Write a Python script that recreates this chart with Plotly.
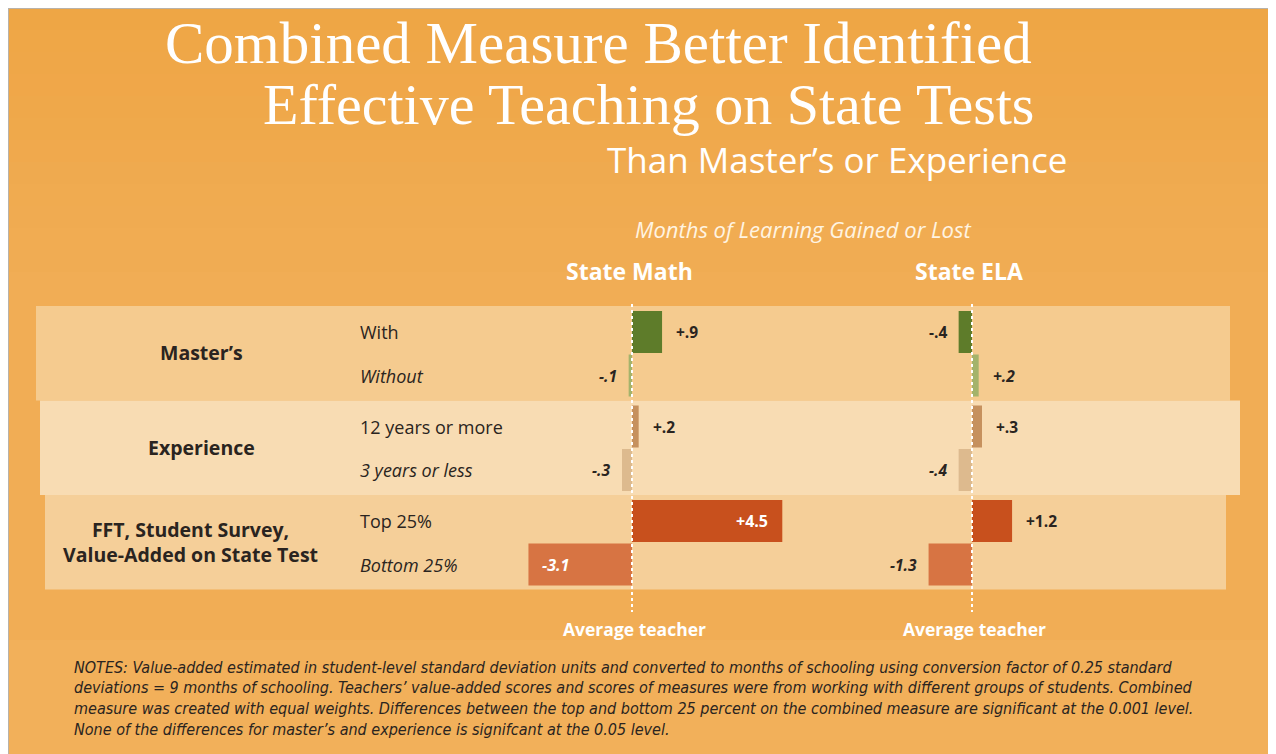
import plotly.graph_objects as go

WIN_W, WIN_H = 1276, 754
OFF = 8                      # default page margin of the html body
W, H = WIN_W - OFF, WIN_H - OFF

# ---------------- data ----------------
title_lines = ["Combined Measure Better Identified", "Effective Teaching on State Tests"]
subtitle = "Than Master’s or Experience"
axis_title = "Months of Learning Gained or Lost"
subjects = ["State Math", "State ELA"]
groups = ["Master’s", "Experience", "FFT, Student Survey,<br>Value-Added on State Test"]
rows = [["With", "Without"], ["12 years or more", "3 years or less"], ["Top 25%", "Bottom 25%"]]
math_vals = [[0.9, -0.1], [0.2, -0.3], [4.5, -3.1]]
ela_vals = [[-0.4, 0.2], [0.3, -0.4], [1.2, -1.3]]
baseline_label = "Average teacher"
notes = [
    "NOTES: Value-added estimated in student-level standard deviation units and converted to months of schooling using conversion factor of 0.25 standard",
    "deviations = 9 months of schooling. Teachers’ value-added scores and scores of measures were from working with different groups of students. Combined",
    "measure was created with equal weights. Differences between the top and bottom 25 percent on the combined measure are significant at the 0.001 level.",
    "None of the differences for master’s and experience is signifcant at the 0.05 level.",
]

# ---------------- styling / layout constants (window pixel coordinates) ----------------
bar_colors = [["#5E7C2A", "#A4B36B"], ["#C6915E", "#DDBA8E"], ["#C8501D", "#D77443"]]
band_colors = ["#F5CB8F", "#F8DCB3", "#F5CF99"]
band_x = [(36, 1230), (40, 1240), (45, 1226)]
BG = "#F1AD55"
K = 33.4                 # pixels per month
zero_px = [632, 972]     # baseline position of each panel
ROW0, GROUP_GAP, ROW_GAP, BAR_H = 332, 94.5, 43.5, 42
DARK = "#2A2420"
SANS = "Open Sans"
NOTE_FONT = "DejaVu Sans Condensed, Liberation Sans Narrow, Roboto Condensed, Roboto"

def px(x):
    return (x - OFF) / W

def row_y(g, s):
    return ROW0 + g * GROUP_GAP + s * ROW_GAP

def fmt(v):
    return ("+" if v > 0 else "-") + f"{abs(v):.1f}".lstrip("0")

fig = go.Figure()
shapes = []
annotations = []

# background: soft vertical gradient (deeper orange at top)
n_strips = 12
for i in range(n_strips):
    y0 = OFF + i * 22
    shapes.append(dict(type="rect", xref="paper", yref="y", x0=0, x1=1, y0=y0, y1=y0 + 22,
                       fillcolor="#EC9E33", opacity=0.45 * (1 - i / n_strips), line_width=0, layer="below"))
shapes.append(dict(type="rect", xref="paper", yref="y", x0=0, x1=1, y0=640, y1=WIN_H,
                   fillcolor="#F4B664", opacity=0.35, line_width=0, layer="below"))
# thin grey frame edge at top/left
shapes.append(dict(type="line", xref="paper", yref="paper", x0=0, x1=0, y0=0, y1=1,
                   line=dict(color="#B9B2A8", width=2)))
shapes.append(dict(type="line", xref="paper", yref="paper", x0=0, x1=1, y0=1, y1=1,
                   line=dict(color="#B9B2A8", width=2)))

# bands
for g in range(len(groups)):
    y_top = row_y(g, 0) - 26
    y_bot = row_y(g, 1) + 25
    shapes.append(dict(type="rect", xref="paper", yref="y", x0=px(band_x[g][0]), x1=px(band_x[g][1]),
                       y0=y_top, y1=y_bot, fillcolor=band_colors[g], line_width=0, layer="below"))

# bars
for p, (vals, axis) in enumerate([(math_vals, "x"), (ela_vals, "x2")]):
    for g in range(len(groups)):
        for s in range(2):
            v = vals[g][s]
            y = row_y(g, s)
            fig.add_trace(go.Bar(x=[v], y=[y], orientation="h", width=BAR_H,
                                 marker=dict(color=bar_colors[g][s], line_width=0),
                                 xaxis=axis, yaxis="y", showlegend=False, hoverinfo="skip"))
            italic = "italic" if s == 1 else "normal"
            inside = abs(v) * K > 70
            if inside:
                annotations.append(dict(x=v, y=y, xref=axis, yref="y", text=fmt(v), showarrow=False,
                                        xanchor="right" if v > 0 else "left", xshift=-12 if v > 0 else 12,
                                        font=dict(family=SANS, size=16, color="white", weight="bold", style=italic)))
            else:
                annotations.append(dict(x=v, y=y, xref=axis, yref="y", text=fmt(v), showarrow=False,
                                        xanchor="left" if v > 0 else "right", xshift=12 if v > 0 else -10,
                                        font=dict(family=SANS, size=15.5, color=DARK, weight="bold", style=italic)))
    # baseline
    shapes.append(dict(type="line", xref=axis, yref="y", x0=0, x1=0, y0=304, y1=612,
                       line=dict(color="white", width=2, dash="dot")))
    annotations.append(dict(x=0, y=271, xref=axis, yref="y", text=subjects[p], showarrow=False,
                            xanchor="center", xshift=-3,
                            font=dict(family=SANS, size=23, color="white", weight="bold")))
    annotations.append(dict(x=0, y=629, xref=axis, yref="y", text=baseline_label, showarrow=False,
                            xanchor="center", xshift=2,
                            font=dict(family=SANS, size=17.5, color="white", weight="bold")))

# group & row labels
for g in range(len(groups)):
    yc = (row_y(g, 0) + row_y(g, 1)) / 2 - 1
    annotations.append(dict(x=px(190 if g == 2 else 201), y=yc, xref="paper", yref="y", text=groups[g],
                            showarrow=False, xanchor="center", align="center",
                            font=dict(family=SANS, size=19.5, color=DARK, weight="bold")))
    for s in range(2):
        annotations.append(dict(x=px(358), y=row_y(g, s), xref="paper", yref="y", text=rows[g][s],
                                showarrow=False, xanchor="left",
                                font=dict(family=SANS, size=18, color=DARK,
                                          style="italic" if s == 1 else "normal")))

# titles
annotations.append(dict(x=px(598), y=43, xref="paper", yref="y", text=title_lines[0], showarrow=False,
                        xanchor="center", font=dict(family="Liberation Serif", size=59, color="white")))
annotations.append(dict(x=px(1036), y=104, xref="paper", yref="y", text=title_lines[1], showarrow=False,
                        xanchor="right", font=dict(family="Liberation Serif", size=58, color="white")))
annotations.append(dict(x=px(1069), y=159, xref="paper", yref="y", text=subtitle, showarrow=False,
                        xanchor="right", font=dict(family=SANS, size=35, color="white")))
annotations.append(dict(x=px(803), y=229, xref="paper", yref="y", text=axis_title, showarrow=False,
                        xanchor="center", font=dict(family=SANS, size=22, color="#FFF4E2", style="italic")))

# notes
for i, line in enumerate(notes):
    annotations.append(dict(x=px(72), y=667 + i * 20.7, xref="paper", yref="y", text=line, showarrow=False,
                            xanchor="left",
                            font=dict(family=NOTE_FONT, size=16, color=DARK, style="italic")))

fig.update_layout(
    width=W, height=H, margin=dict(l=0, r=0, t=0, b=0),
    paper_bgcolor=BG, plot_bgcolor="rgba(0,0,0,0)",
    barmode="overlay", showlegend=False,
    xaxis=dict(range=[(OFF - zero_px[0]) / K, (WIN_W - zero_px[0]) / K], domain=[0, 1],
               visible=False, fixedrange=True),
    xaxis2=dict(range=[(OFF - zero_px[1]) / K, (WIN_W - zero_px[1]) / K], domain=[0, 1], overlaying="x",
                anchor="y", visible=False, fixedrange=True),
    yaxis=dict(range=[WIN_H, OFF], domain=[0, 1], visible=False, fixedrange=True),
    shapes=shapes, annotations=annotations,
)

fig.write_html("out.html")
